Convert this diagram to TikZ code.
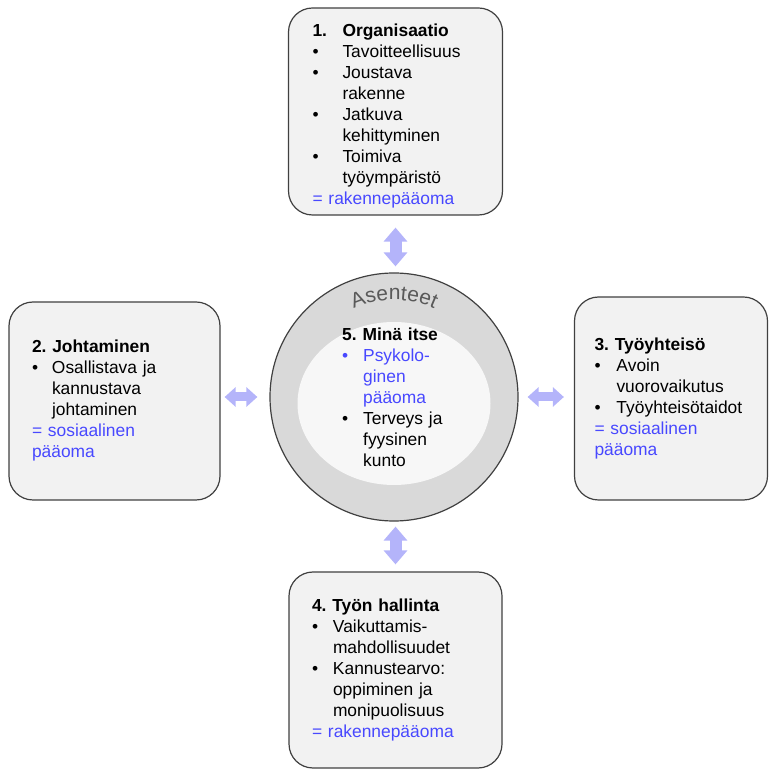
\documentclass[tikz,border=0pt]{standalone}
\usepackage{fontspec}
\setmainfont{Liberation Sans}
\usepackage{xcolor}
\usepackage{tikz}
\usetikzlibrary{arrows.meta,decorations.text}
\definecolor{boxfill}{HTML}{F2F2F2}
\definecolor{boxline}{HTML}{404040}
\definecolor{ringfill}{HTML}{D9D9D9}
\definecolor{innerfill}{HTML}{F7F7F7}
\definecolor{capblue}{RGB}{72,72,255}
\definecolor{arrowfill}{RGB}{180,180,250}
\definecolor{asgray}{HTML}{595959}
\frenchspacing
\newlength{\bulind}
\newcommand{\itm}[1]{\par\noindent\hangindent=\bulind\hangafter=1\makebox[\bulind][l]{\textbullet}#1\par}

\begin{document}
\begin{tikzpicture}[x=1pt, y=1pt,
    box/.style={draw=boxline, line width=1.2pt, fill=boxfill, rounded corners=24pt,
      align=left, inner xsep=23pt, inner ysep=0pt,
      font=\fontsize{17.4}{21}\selectfont},
    blockv/.style={arrowfill, line width=12pt,
      {Triangle[length=14pt,width=23pt]}-{Triangle[length=14pt,width=23pt]}},
    blockh/.style={arrowfill, line width=9pt,
      {Triangle[length=11pt,width=19pt]}-{Triangle[length=11pt,width=19pt]}}]
    \useasboundingbox (0, 0) rectangle (769, 769);

    % ring with attitudes
    \node[circle, draw=boxline, line width=1.2pt, fill=ringfill, minimum size=248pt, inner sep=0pt] (ring) at (394, 372) {};
    \fill[innerfill] (394, 365.5) ellipse [x radius=96.5, y radius=81.5];
    \path[decoration={text along path, text align=center, text color=asgray,
        text={|\fontsize{21}{21}\selectfont|Asenteet}}, decorate]
      (ring.center) ++(152:97) arc[start angle=152, end angle=28, radius=97];

    % self
    \node[align=left, anchor=west, text width=112pt, inner sep=0pt,
      font=\fontsize{17.4}{21}\selectfont] (self) at (342, 372) {%
      \setlength{\bulind}{21pt}%
      \textbf{5. Minä itse}\par
      {\color{capblue}\itm{Psykolo-\newline ginen\newline pääoma}}
      \itm{Terveys ja\newline fyysinen\newline kunto}};

    % the four boxes
    \node[box, text width=166pt, inner xsep=24pt, minimum height=207pt] (org) at (395.5, 657.5) {%
      \setlength{\bulind}{30pt}%
      \noindent\rule{0pt}{21pt}\makebox[\bulind][l]{\textbf{1.}}\textbf{Organisaatio}\par
      \itm{Tavoitteellisuus}
      \itm{Joustava\newline rakenne}
      \itm{Jatkuva\newline kehittyminen}
      \itm{Toimiva\newline työympäristö}
      \textcolor{capblue}{= rakennepääoma}};
    \node[box, text width=165pt, minimum height=198pt] (lead) at (114.5, 368) {%
      \setlength{\bulind}{20pt}%
      \textbf{2. Johtaminen}\par
      \itm{Osallistava ja\newline kannustava\newline johtaminen}
      {\color{capblue}= sosiaalinen\\pääoma}};
    \node[box, text width=153pt, inner xsep=20pt, minimum height=203pt] (comm) at (671, 370.5) {%
      \setlength{\bulind}{22pt}%
      \textbf{3. Työyhteisö}\par
      \itm{Avoin\newline vuorovaikutus}
      \itm{Työyhteisötaidot}
      {\color{capblue}= sosiaalinen\\pääoma}};
    \node[box, text width=167pt, minimum height=196pt] (ctrl) at (395.5, 99) {%
      \setlength{\bulind}{21pt}%
      \textbf{4. Työn hallinta}\par
      \itm{Vaikuttamis-\newline mahdollisuudet}
      \itm{Kannustearvo:\newline oppiminen ja\newline monipuolisuus}
      \textcolor{capblue}{= rakennepääoma}};

    % block arrows
    \draw[blockv, shorten <=12pt, shorten >=6pt] (org.south) -- (org.south |- ring.north);
    \draw[blockv, shorten <=5pt, shorten >=7pt] (ctrl.north |- ring.south) -- (ctrl.north);
    \draw[blockh, shorten <=4pt, shorten >=12pt] (lead.east |- ring.west) -- (ring.west);
    \draw[blockh, shorten <=9pt, shorten >=10pt] (ring.east) -- (ring.east -| comm.west);
\end{tikzpicture}
\end{document}
